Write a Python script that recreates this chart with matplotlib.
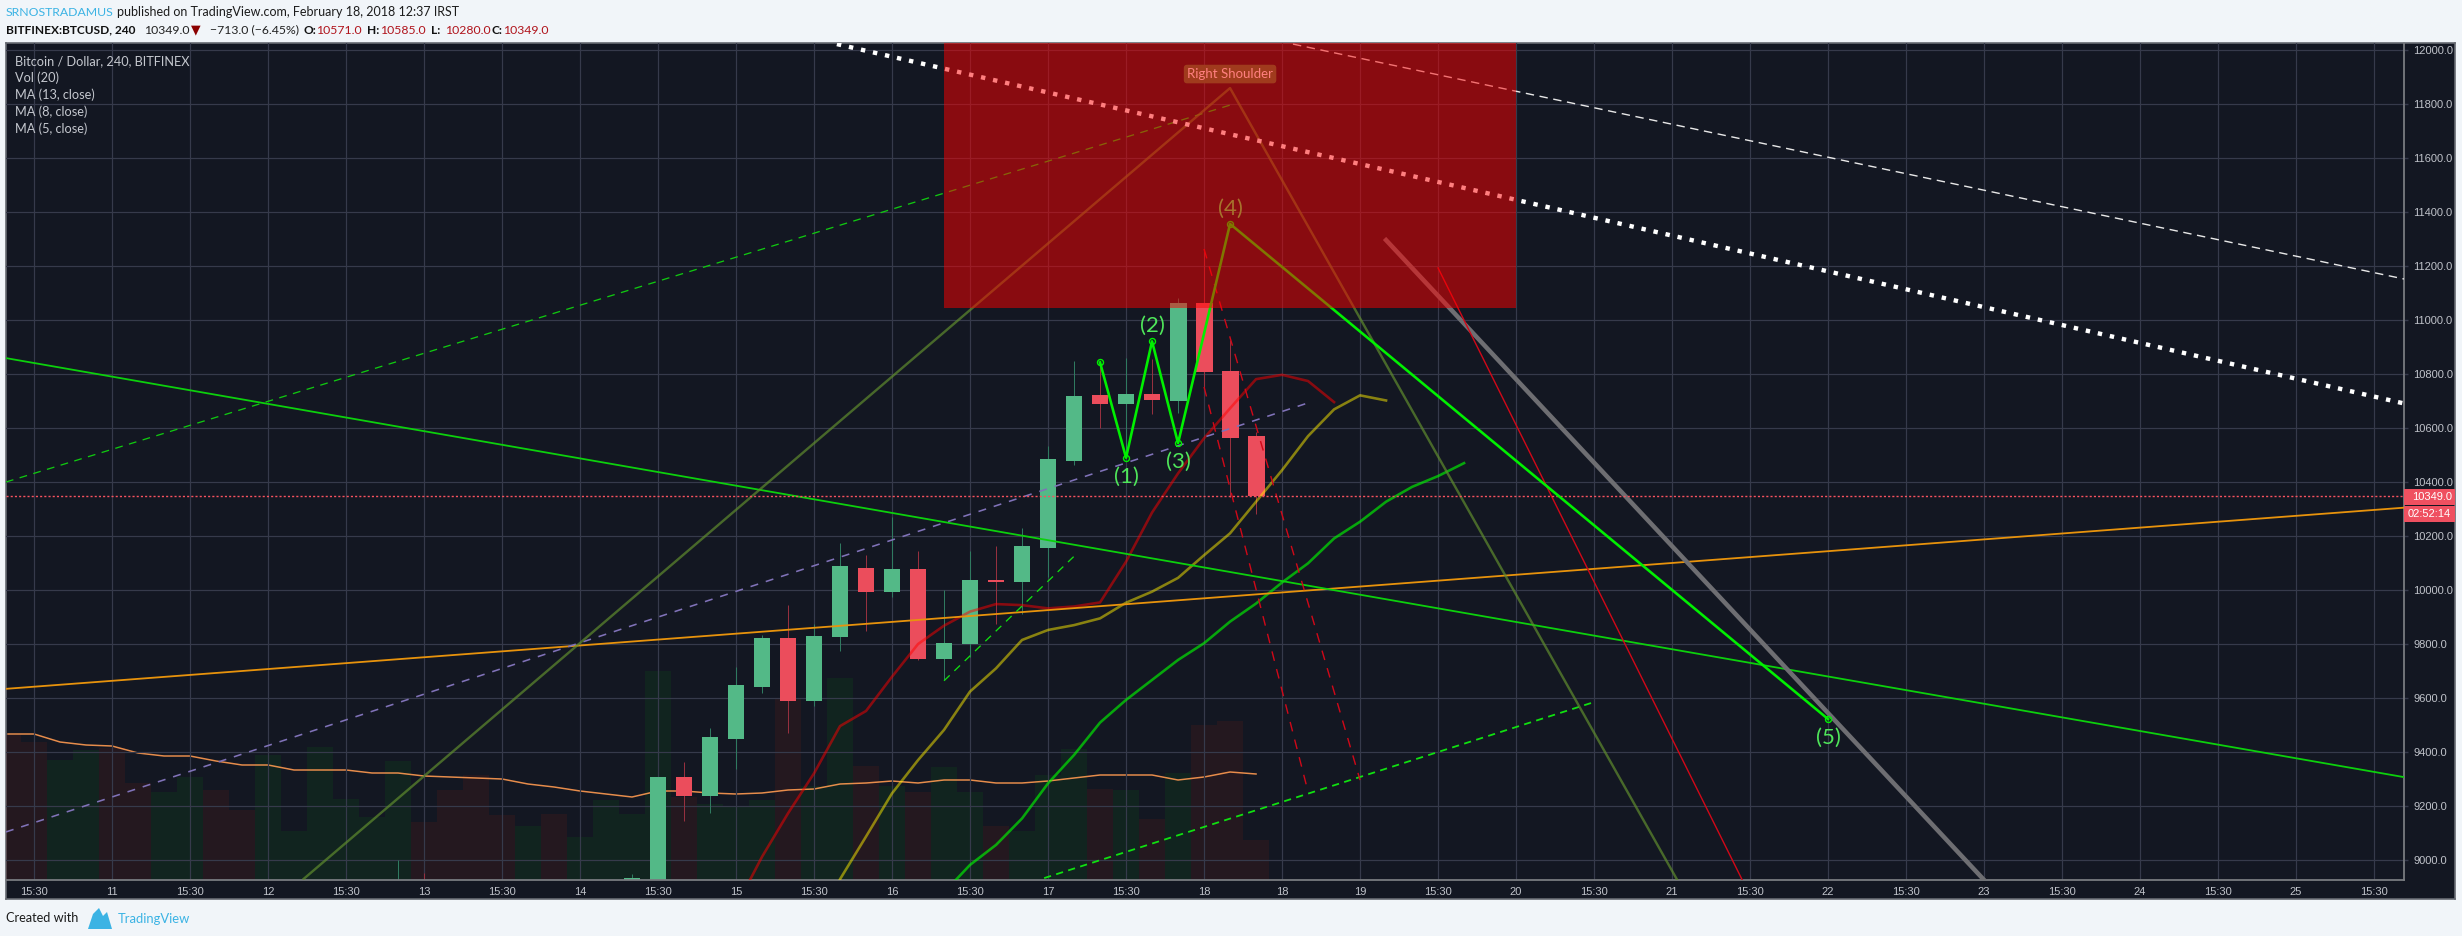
# BTCUSD 4h chart, TradingView snapshot
import matplotlib
matplotlib.use('Agg')
import matplotlib.pyplot as plt
from matplotlib.patches import Rectangle, Polygon

W, H = 2462, 936
plt.rcParams['font.family'] = ['Lato', 'DejaVu Sans']

# candles: bar index, open, high, low, close
bar_idx = [14, 15, 23, 24, 25, 26, 27, 28, 29, 30, 31, 32, 33, 34, 35, 36, 37, 38, 39, 40, 41, 42, 43, 44, 45, 46, 47]
opens = [8900, 8910, 8926, 8900, 9307, 9238, 9448, 9642, 9822, 9589, 9827, 10081, 9994, 10078, 9744, 9800, 10036, 10029, 10155, 10478, 10722, 10689, 10726, 10700, 11063, 10811, 10571]
highs = [9000, 8953, 8948, 9307, 9362, 9488, 9716, 9833, 9944, 9873, 10173, 10129, 10271, 10145, 9999, 10145, 10163, 10228, 10533, 10848, 10845, 10858, 10855, 11080, 11259, 10926, 10585]
lows = [8890, 8900, 8926, 8890, 9144, 9175, 9338, 9620, 9472, 9570, 9775, 9848, 9975, 9740, 9667, 9753, 9876, 9913, 10049, 10463, 10599, 10488, 10652, 10654, 10750, 10346, 10280]
closes = [8905, 8900, 8934, 9307, 9238, 9456, 9648, 9822, 9589, 9830, 10089, 9992, 10078, 9745, 9804, 10037, 10030, 10163, 10485, 10718, 10689, 10726, 10704, 11063, 10807, 10563, 10349]

# volume (scaled), starts at bar -1
vol = [145, 138, 120, 130, 132, 97, 88, 103, 90, 70, 125, 49, 133, 81, 63, 119, 58, 90, 105, 65, 54, 66, 43, 80, 66, 209, 83, 76, 74, 80, 181,
       94, 202, 114, 94, 88, 113, 88, 54, 49, 105, 131, 91, 90, 61, 107, 155, 159, 40]
vol_red = [-1, 0, 3, 4, 7, 8, 15, 16, 17, 18, 20, 25, 29, 32, 34, 37, 41, 43, 45, 46, 47]
vol_ma = [146, 146, 138, 135, 134, 127, 124, 124, 119, 115, 115, 110, 110, 110, 107, 107, 104, 103, 102, 101, 96, 93, 89, 86, 83, 89, 89, 87, 86, 87, 90,
          91, 96, 97, 99, 97, 100, 100, 97, 97, 99, 102, 105, 105, 105, 100, 103, 108, 106]

# moving averages
ma5_idx = list(range(27, 51))
ma5 = [8827, 9012, 9173, 9321, 9496, 9552, 9679, 9800, 9868, 9920, 9948, 9944, 9932, 9939, 9954, 10105, 10287, 10432, 10562, 10673, 10781, 10797, 10774, 10696]
ma8_idx = list(range(31, 53))
ma8 = [8929, 9087, 9247, 9370, 9482, 9624, 9710, 9815, 9852, 9870, 9895, 9953, 9994, 10045, 10129, 10210, 10327, 10444, 10570, 10669, 10721, 10702]
ma13_idx = list(range(35, 56))
ma13 = [8880, 8982, 9056, 9154, 9284, 9389, 9509, 9593, 9667, 9741, 9803, 9883, 9950, 10028, 10099, 10191, 10253, 10327, 10382, 10422, 10470]

# drawings, as ([bar, bar], [price, price])
orange_line = ([-1.08, 91.15], [9634, 10305])
green_long = ([-1.08, 91.15], [10859, 9307])
green_dash_top = ([-1.08, 46], [10400, 11796])
green_dash_small = ([35, 40], [9664, 10125])
green_dash_low = ([38.85, 60], [8933, 9585])
purple_dash = ([-1.08, 49], [9104, 10693])
shoulder_idx = [10.37, 46, 63.2]
shoulder_p = [8930, 11859, 8926]
dots_white = ([30.88, 91.15], [12022, 10691])
dash_white = ([48.42, 91.15], [12022, 11152])
gray_thick = ([52, 75], [11296, 8926])
red_thin = ([54, 65.7], [11193, 8926])
red_dash_a = ([45, 49], [10752, 9253])
red_dash_b = ([45, 51], [11263, 9296])
wave_idx = [41, 42, 43, 44, 46, 69]
wave_p = [10843, 10490, 10921, 10544, 11356, 9522]
wave_labels = ['(1)', '(2)', '(3)', '(4)', '(5)']
wave_label_idx = [42, 43, 44, 46, 69]
wave_label_p = [10418, 10978, 10474, 11411, 9452]
zone_idx = [35, 57]
zone_p = [11044, 12100]
last_price = 10349

y_ticks = list(range(9000, 12001, 200))
x_labels = ['15:30', '11', '15:30', '12', '15:30', '13', '15:30', '14', '15:30', '15', '15:30', '16', '15:30', '17', '15:30', '18',
            '18', '19', '15:30', '20', '15:30', '21', '15:30', '22', '15:30', '23', '15:30', '24', '15:30', '25', '15:30']
x_ticks = [3 * k for k in range(len(x_labels))]

BG = '#131722'
GRID = '#363a4b'
UP = '#53b987'
DOWN = '#eb4d5c'
TXT = '#c0c3ca'
PAGE = '#f1f5f9'
BLUE = '#3bb3e4'
px = 0.72  # one pixel in points at dpi 100


def frect(x0, y0, x1, y1):
    return [x0 / W, 1 - y1 / H, (x1 - x0) / W, (y1 - y0) / H]


def ftext(x, y, s, **kw):
    fig.text(x / W, 1 - y / H, s, va='center', **kw)


fig = plt.figure(figsize=(W / 100, H / 100), dpi=100, facecolor=PAGE)

back = fig.add_axes(frect(6, 43, 2455, 899), facecolor=BG)
back.set_zorder(-5)
back.set_xticks([])
back.set_yticks([])
for s in back.spines.values():
    s.set_color('#666a72')
    s.set_linewidth(1.2)

ax = fig.add_axes(frect(6, 43, 2404, 880))
ax_vol = ax.twinx()
ax_vol.set_zorder(ax.get_zorder() - 1)
ax.patch.set_visible(False)
ax_vol.patch.set_visible(False)

# volume panel
for n, v in enumerate(vol):
    i = n - 1
    c = (87 / 255, 27 / 255, 26 / 255, 0.25) if i in vol_red else (14 / 255, 75 / 255, 24 / 255, 0.25)
    ax_vol.bar(i, v, width=1.0, color=c, linewidth=0)
ax_vol.plot(range(-1, 48), vol_ma, color='#ff9a50', lw=1.5 * px, alpha=0.9)
ax_vol.set_ylim(0, 837)
ax_vol.set_yticks([])
for s in ax_vol.spines.values():
    s.set_visible(False)

# candles
candle_colors = [UP if c >= o else DOWN for o, c in zip(opens, closes)]
wick_colors = ['#2f7a60' if c >= o else '#96303f' for o, c in zip(opens, closes)]
ax.vlines(bar_idx, lows, highs, colors=wick_colors, lw=px, zorder=2)
ax.bar(bar_idx, [abs(c - o) for o, c in zip(opens, closes)], bottom=[min(o, c) for o, c in zip(opens, closes)],
       width=0.65, color=candle_colors, linewidth=0, zorder=2.5)

# moving averages
ax.plot(ma5_idx, ma5, color='#ff0000', alpha=0.5, lw=2.6 * px, zorder=3)
ax.plot(ma8_idx, ma8, color='#ffee00', alpha=0.5, lw=2.6 * px, zorder=3)
ax.plot(ma13_idx, ma13, color='#00ff00', alpha=0.62, lw=2.6 * px, zorder=3)

# trend lines
ax.plot(*orange_line, color='#e8930c', lw=1.8 * px, zorder=3)
ax.plot(*green_long, color='#0cd00c', lw=1.8 * px, zorder=3)
ax.plot(*green_dash_top, color='#10c810', lw=1.3 * px, ls=(0, (6, 5)), zorder=3)
ax.plot(*green_dash_small, color='#10e010', lw=1.3 * px, ls=(0, (6, 5)), zorder=3)
ax.plot(*green_dash_low, color='#10e010', lw=1.8 * px, ls=(0, (4, 3)), zorder=3)
ax.plot(*purple_dash, color='#8072b8', lw=1.6 * px, ls=(0, (5, 5)), zorder=3)
ax.plot(shoulder_idx, shoulder_p, color='#5f8c2e', alpha=0.7, lw=2.4 * px, zorder=3)
ax.plot(*dots_white, color='white', lw=4.4 * px, ls=(0, (1, 1.8)), zorder=3.2)
ax.plot(*dash_white, color='#e8e8e8', lw=1.4 * px, ls=(0, (6, 4)), zorder=3.2)
ax.plot(*gray_thick, color='#6e6e72', lw=4.5 * px, zorder=3.2)
ax.plot(*red_thin, color='#d00818', lw=1.4 * px, zorder=3.2)
ax.plot(*red_dash_a, color='#d00818', lw=1.4 * px, ls=(0, (7, 6)), zorder=3.2)
ax.plot(*red_dash_b, color='#d00818', lw=1.4 * px, ls=(0, (7, 6)), zorder=3.2)
ax.axhline(last_price, color='#f7525f', lw=1.4 * px, ls=(0, (1.5, 1.5)), zorder=3.4)

# elliott wave
ax.plot(wave_idx, wave_p, color='#00f000', lw=2.6 * px, marker='o', ms=5 * px * 1.2, mfc='none', mec='#00f000', mew=1, zorder=4)
for lab, i, p in zip(wave_labels, wave_label_idx, wave_label_p):
    ax.text(i, p, lab, color='#4fe65a', fontsize=16, ha='center', va='center', zorder=5)

ax.text(46, 11911, 'Right Shoulder', color='white', fontsize=9.5, ha='center', va='center', zorder=5,
        bbox=dict(boxstyle='round,pad=0.25', fc='#41783c', ec='none'))

# supply zone sits over everything
ax.add_patch(Rectangle((zone_idx[0], zone_p[0]), zone_idx[1] - zone_idx[0], zone_p[1] - zone_p[0],
                       facecolor='#ff0000', alpha=0.5, linewidth=0, zorder=6))

ax.set_xlim(-1.077, 91.15)
ax.set_ylim(8926, 12026)
ax.yaxis.tick_right()
ax.set_yticks(y_ticks)
ax.set_yticklabels(['%.1f' % v for v in y_ticks], fontfamily='Liberation Sans', fontsize=8, color=TXT)
ax.set_xticks(x_ticks)
ax.set_xticklabels(x_labels, fontfamily='Liberation Sans', fontsize=8, color=TXT)
ax.tick_params(axis='x', length=0, pad=5)
ax.tick_params(axis='y', length=3, width=1, color=GRID, pad=3.5)
ax.grid(True, color=GRID, lw=1.2 * px, zorder=0)
ax.set_axisbelow(True)
for s in ['top', 'left']:
    ax.spines[s].set_visible(False)
for s in ['bottom', 'right']:
    ax.spines[s].set_color('#787b80')
    ax.spines[s].set_linewidth(1.3)

# price tags on the axis
fig.add_artist(Rectangle((2404 / W, 1 - 505 / H), 51 / W, 16 / H, transform=fig.transFigure, facecolor='#ef5060', linewidth=0))
fig.add_artist(Rectangle((2404 / W, 1 - 522 / H), 51 / W, 16 / H, transform=fig.transFigure, facecolor='#ef5060', linewidth=0))
ftext(2412, 497, '10349.0', color='white', fontsize=8, fontfamily='Liberation Sans')
ftext(2408, 514, '02:52:14', color='white', fontsize=8, fontfamily='Liberation Sans')

# legend text
legend_lines = ['Bitcoin / Dollar, 240, BITFINEX', 'Vol (20)', 'MA (13, close)', 'MA (8, close)', 'MA (5, close)']
legend_y = [61, 78, 95, 112, 129]
for s, y in zip(legend_lines, legend_y):
    ftext(15, y, s, color='#c4c7ce', fontsize=9.2)

# header
ftext(6, 12, 'SRNOSTRADAMUS', color=BLUE, fontsize=8.8)
ftext(117, 12, 'published on TradingView.com, February 18, 2018 12:37 IRST', color='#1c1c1c', fontsize=9)
ftext(6, 30, 'BITFINEX:BTCUSD, 240', color='#111111', fontsize=8.6, fontweight='bold')
ftext(144, 30, '10349.0', color='#222222', fontsize=8.8)
ftext(191, 30, '▼', color='#8b0000', fontsize=9, fontfamily='DejaVu Sans')
ftext(210, 30, '−713.0 (−6.45%)', color='#222222', fontsize=8.8)
ohlc_x = [303, 367, 431, 491]
ohlc_tags = ['O:', 'H:', 'L:', 'C:']
ohlc_vals = ['10571.0', '10585.0', '10280.0', '10349.0']
ohlc_val_x = [316, 380, 445, 503]
for x, t, vx, v in zip(ohlc_x, ohlc_tags, ohlc_val_x, ohlc_vals):
    ftext(x, 30, t, color='#111111', fontsize=8.6, fontweight='bold')
    ftext(vx, 30, v, color='#b0141c', fontsize=8.8)

# footer
ftext(6, 918, 'Created with', color='#1c1c1c', fontsize=9.2)
logo_x = [88, 93, 99, 103, 107, 112, 112, 88]
logo_y = [929, 914, 908, 916, 912, 929, 929, 929]
fig.add_artist(Polygon([(x / W, 1 - y / H) for x, y in zip(logo_x, logo_y)], closed=True, transform=fig.transFigure,
                       facecolor=BLUE, linewidth=0))
ftext(118, 919, 'TradingView', color=BLUE, fontsize=9.4)

fig.savefig('out.png', dpi=100, facecolor=PAGE)
